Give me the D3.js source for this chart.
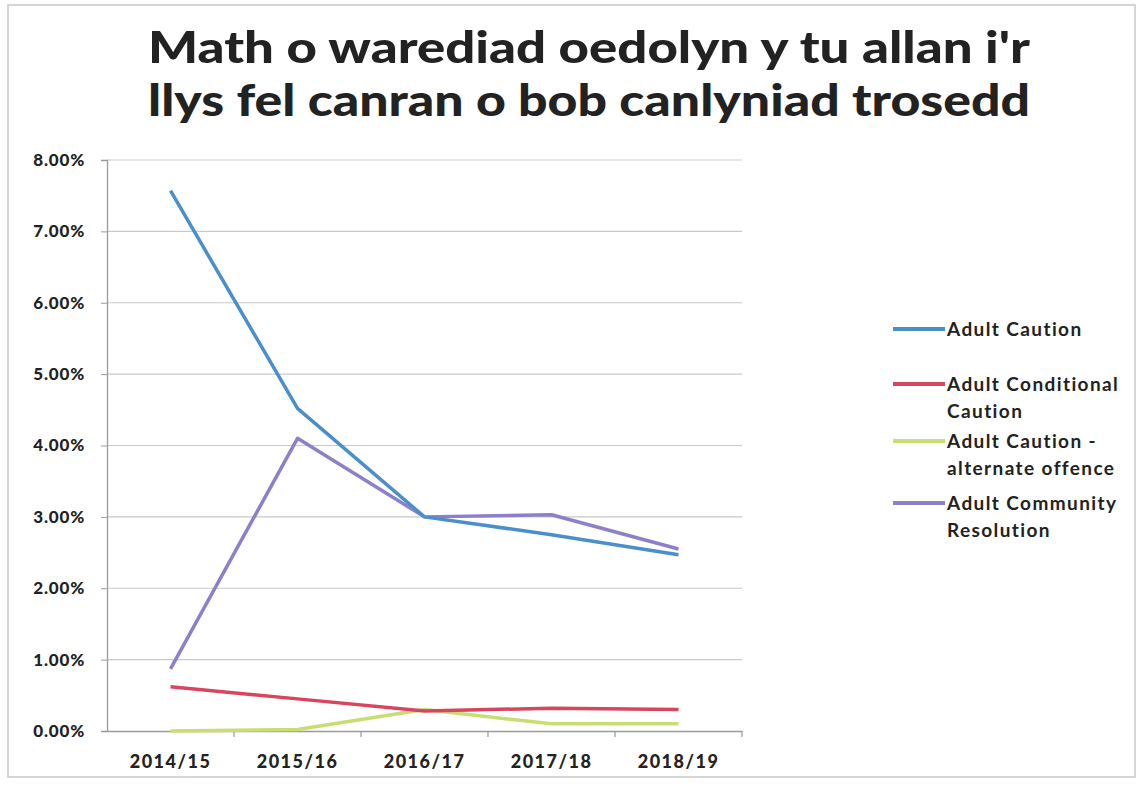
<!DOCTYPE html>
<html><head><meta charset="utf-8">
<script src="https://cdn.jsdelivr.net/npm/d3@7"></script>
<style>body{margin:0;background:#fff;} text{font-family:"Lato","Liberation Sans",sans-serif;}</style>
</head><body>
<svg id="c" width="1138" height="787"></svg>
<script>
const categories = ["2014/15","2015/16","2016/17","2017/18","2018/19"];
const seriesNames = ["Adult Caution","Adult Conditional Caution","Adult Caution - alternate offence","Adult Community Resolution"];
const adultCaution = [7.57, 4.52, 3.0, 2.75, 2.47];
const conditionalCaution = [0.62, 0.45, 0.28, 0.32, 0.30];
const alternateOffence = [0.0, 0.02, 0.30, 0.10, 0.10];
const communityResolution = [0.87, 4.10, 3.0, 3.03, 2.55];
const yTicks = [0,1,2,3,4,5,6,7,8];
const colors = ["#4a8fcb","#d7455f","#c8dd72","#8c80cb"];
const legendLines = [["Adult Caution"],["Adult Conditional","Caution"],["Adult Caution -","alternate offence"],["Adult Community","Resolution"]];
const titleLines = ["Math o warediad oedolyn y tu allan i'r","llys fel canran o bob canlyniad trosedd"];

const svg = d3.select("#c");
svg.append("rect").attr("x",8).attr("y",5).attr("width",1127).attr("height",772)
  .attr("fill","#fff").attr("stroke","#c8c8c8").attr("stroke-width",1.5);

const L=107, R=742, T=160, B=731;
const x = d3.scaleBand().domain(categories).range([L,R]);
const y = d3.scaleLinear().domain([0,8]).range([B,T]);

// gridlines
svg.append("g").selectAll("line").data(yTicks.slice(1)).join("line")
  .attr("x1",L).attr("x2",R).attr("y1",d=>y(d)).attr("y2",d=>y(d))
  .attr("stroke","#c9c9c9").attr("stroke-width",1.2);

// y axis
const ya = svg.append("g").attr("transform",`translate(${L},0)`)
  .call(d3.axisLeft(y).tickValues(yTicks).tickFormat(d=>d.toFixed(2)+"%").tickSize(6).tickPadding(16));
ya.select(".domain").attr("stroke","#9a9a9a").attr("stroke-width",1.3);
ya.selectAll(".tick line").attr("stroke","#9a9a9a");
ya.selectAll("text").attr("font-size",17).attr("font-weight",900).attr("letter-spacing",0.8).attr("fill","#222");

// x axis
const xa = svg.append("g").attr("transform",`translate(0,${B})`)
  .call(d3.axisBottom(x).tickSize(0).tickPadding(24));
xa.select(".domain").attr("stroke","#9a9a9a").attr("stroke-width",1.3);
xa.selectAll("text").attr("font-size",18).attr("font-weight",900).attr("letter-spacing",1.5).attr("fill","#222");
svg.append("g").selectAll("line").data(categories.slice(1)).join("line")
  .attr("x1",d=>x(d)).attr("x2",d=>x(d)).attr("y1",B).attr("y2",B+6)
  .attr("stroke","#9a9a9a").attr("stroke-width",1.2);
svg.append("line").attr("x1",R).attr("x2",R).attr("y1",B).attr("y2",B+6).attr("stroke","#9a9a9a").attr("stroke-width",1.2);

// lines
const allSeries = [adultCaution, conditionalCaution, alternateOffence, communityResolution];
const line = d3.line().x((d,i)=>x(categories[i])+x.bandwidth()/2).y(d=>y(d));
const order = [2,1,3,0];
order.forEach(k=>{
  svg.append("path").datum(allSeries[k]).attr("d",line).attr("fill","none")
    .attr("stroke",colors[k]).attr("stroke-width",3.5).attr("stroke-linejoin","round");
});

// title
const title = svg.append("text").attr("font-size",44).attr("font-weight",900).attr("fill","#222");
titleLines.forEach((t,i)=>{
  title.append("tspan").attr("x",148).attr("y",63+i*53).attr("textLength",882)
    .attr("lengthAdjust","spacingAndGlyphs").text(t);
});

// legend
const ly = [329,384,441,503];
legendLines.forEach((lines,k)=>{
  svg.append("line").attr("x1",893).attr("x2",945).attr("y1",ly[k]).attr("y2",ly[k])
    .attr("stroke",colors[k]).attr("stroke-width",4);
  lines.forEach((t,j)=>{
    svg.append("text").attr("x",947).attr("y",ly[k]+7+j*27).attr("font-size",19).attr("font-weight",700)
      .attr("letter-spacing",1.4).attr("fill","#222").text(t);
  });
});
</script>
</body></html>
